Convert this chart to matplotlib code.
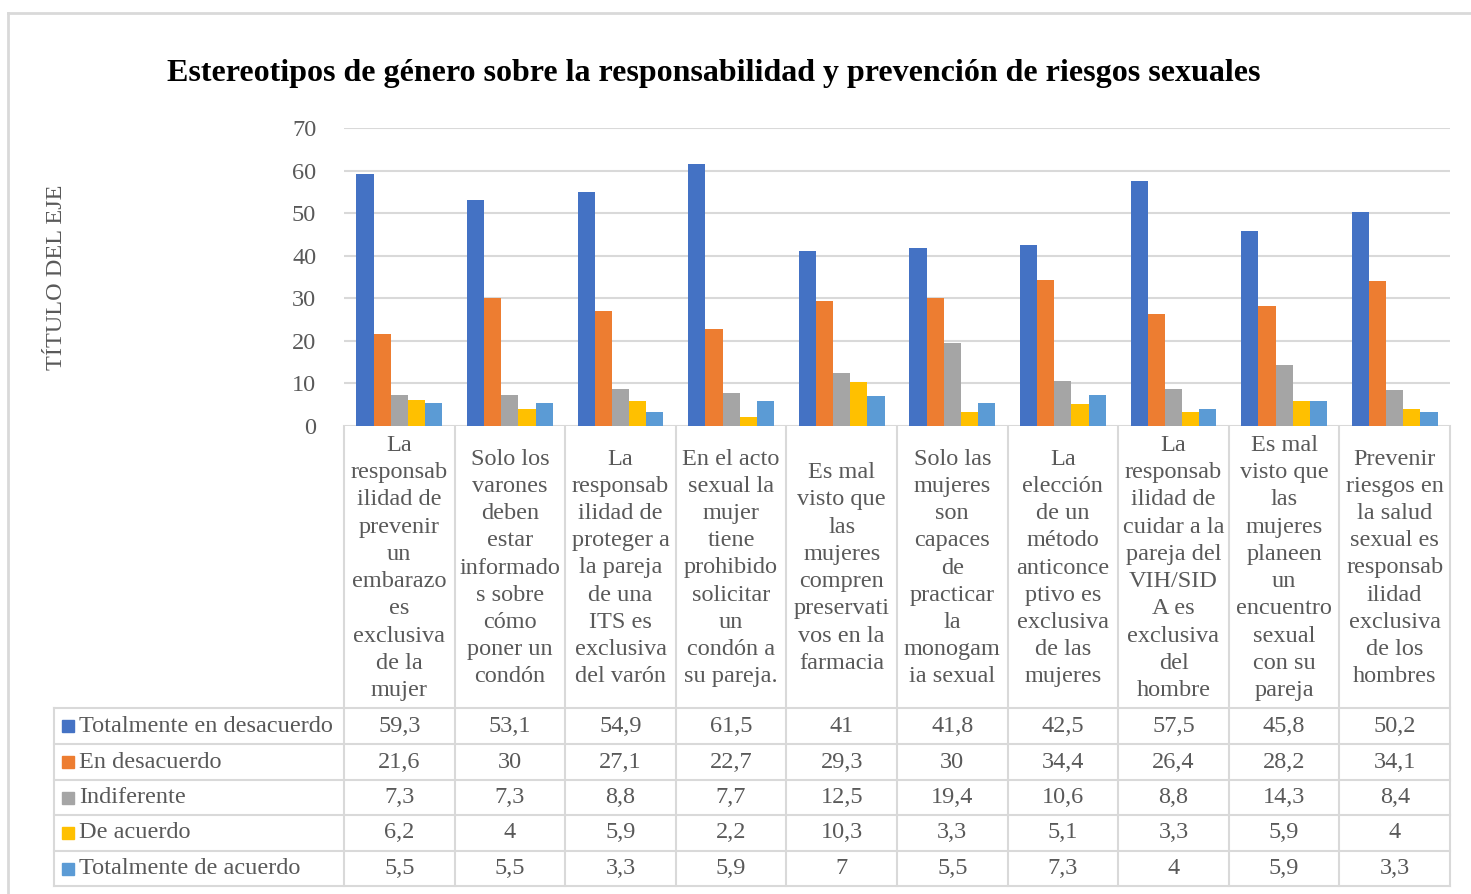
import matplotlib.pyplot as plt
from matplotlib.transforms import blended_transform_factory
from matplotlib.patches import Rectangle

plt.rcParams['font.family'] = ['Liberation Serif', 'DejaVu Serif']

# data
categories = [
    "La\nresponsab\nilidad de\nprevenir\nun\nembarazo\nes\nexclusiva\nde la\nmujer",
    "Solo los\nvarones\ndeben\nestar\ninformado\ns sobre\ncómo\nponer un\ncondón",
    "La\nresponsab\nilidad de\nproteger a\nla pareja\nde una\nITS es\nexclusiva\ndel varón",
    "En el acto\nsexual la\nmujer\ntiene\nprohibido\nsolicitar\nun\ncondón a\nsu pareja.",
    "Es mal\nvisto que\nlas\nmujeres\ncompren\npreservati\nvos en la\nfarmacia",
    "Solo las\nmujeres\nson\ncapaces\nde\npracticar\nla\nmonogam\nia sexual",
    "La\nelección\nde un\nmétodo\nanticonce\nptivo es\nexclusiva\nde las\nmujeres",
    "La\nresponsab\nilidad de\ncuidar a la\npareja del\nVIH/SID\nA es\nexclusiva\ndel\nhombre",
    "Es mal\nvisto que\nlas\nmujeres\nplaneen\nun\nencuentro\nsexual\ncon su\npareja",
    "Prevenir\nriesgos en\nla salud\nsexual es\nresponsab\nilidad\nexclusiva\nde los\nhombres",
]
series_names = ["Totalmente en desacuerdo", "En desacuerdo", "Indiferente",
                "De acuerdo", "Totalmente de acuerdo"]
tot_desacuerdo = [59.3, 53.1, 54.9, 61.5, 41, 41.8, 42.5, 57.5, 45.8, 50.2]
en_desacuerdo = [21.6, 30, 27.1, 22.7, 29.3, 30, 34.4, 26.4, 28.2, 34.1]
indiferente = [7.3, 7.3, 8.8, 7.7, 12.5, 19.4, 10.6, 8.8, 14.3, 8.4]
de_acuerdo = [6.2, 4, 5.9, 2.2, 10.3, 3.3, 5.1, 3.3, 5.9, 4]
tot_acuerdo = [5.5, 5.5, 3.3, 5.9, 7, 5.5, 7.3, 4, 5.9, 3.3]
series = [tot_desacuerdo, en_desacuerdo, indiferente, de_acuerdo, tot_acuerdo]
colors = ["#4472C4", "#ED7D31", "#A5A5A5", "#FFC000", "#5B9BD5"]

W, H = 1471, 894
fs = 17.5
gray_txt = "#595959"
grid_c = "#D9D9D9"

fig = plt.figure(figsize=(W / 100, H / 100), dpi=100)
ax = fig.add_axes([344 / W, (H - 426) / H, (1450 - 344) / W, (426 - 128) / H])

n = len(categories)
bw = 0.155
for i, (vals, c) in enumerate(zip(series, colors)):
    xs = [k + (i - 2) * bw for k in range(n)]
    ax.bar(xs, vals, width=bw, color=c, zorder=3)

ax.set_xlim(-0.5, n - 0.5)
ax.set_ylim(0, 70)
ax.set_yticks(range(0, 71, 10))
ax.set_xticks([])
ax.tick_params(axis='y', length=0, labelsize=fs, labelcolor=gray_txt, pad=20)
ax.grid(axis='y', color=grid_c, linewidth=1.5, zorder=0)
for s in ax.spines.values():
    s.set_visible(False)

# overlay in pixel coordinates for the data table and frame
tb = fig.add_axes([0, 0, 1, 1], zorder=-1)
tb.set_xlim(0, W)
tb.set_ylim(H, 0)
tb.axis("off")
tr = blended_transform_factory(ax.transData, tb.transData)

# outer chart frame
tb.plot([8, 8], [13, H], color=grid_c, lw=2)
tb.plot([8, W], [13, 13], color=grid_c, lw=2)

row_y = [708, 744, 780, 815, 851, 886]
# vertical table lines
for k in range(n + 1):
    tb.plot([k - 0.5, k - 0.5], [426, row_y[-1]], color=grid_c, lw=1.5, transform=tr)
tb.plot([54, 54], [row_y[0], row_y[-1]], color=grid_c, lw=1.5)
# horizontal table lines
for y in row_y:
    tb.plot([54, 1450], [y, y], color=grid_c, lw=1.5)

# category labels
for k, lab in enumerate(categories):
    tb.text(k, 568, lab, transform=tr, ha="center", va="center",
            fontsize=fs, color=gray_txt, linespacing=1.39)

# table rows
for r, (name, vals, c) in enumerate(zip(series_names, series, colors)):
    yc = (row_y[r] + row_y[r + 1]) / 2
    tb.add_patch(Rectangle((62, yc - 6), 12, 12, color=c))
    tb.text(79, yc, name, ha="left", va="center", fontsize=fs, color=gray_txt)
    for k, v in enumerate(vals):
        txt = f"{v:g}".replace(".", ",")
        tb.text(k, yc, txt, transform=tr, ha="center", va="center",
                fontsize=fs, color=gray_txt)

fig.text(714 / W, 1 - 73 / H,
         "Estereotipos de género sobre la responsabilidad y prevención de riesgos sexuales",
         ha="center", va="center", fontsize=23, fontweight="bold", color="black")
fig.text(57 / W, 1 - 277 / H, "TÍTULO DEL EJE", rotation=90, ha="center",
         va="center", fontsize=fs, color=gray_txt)

fig.savefig("out.png", dpi=100, facecolor="white")
